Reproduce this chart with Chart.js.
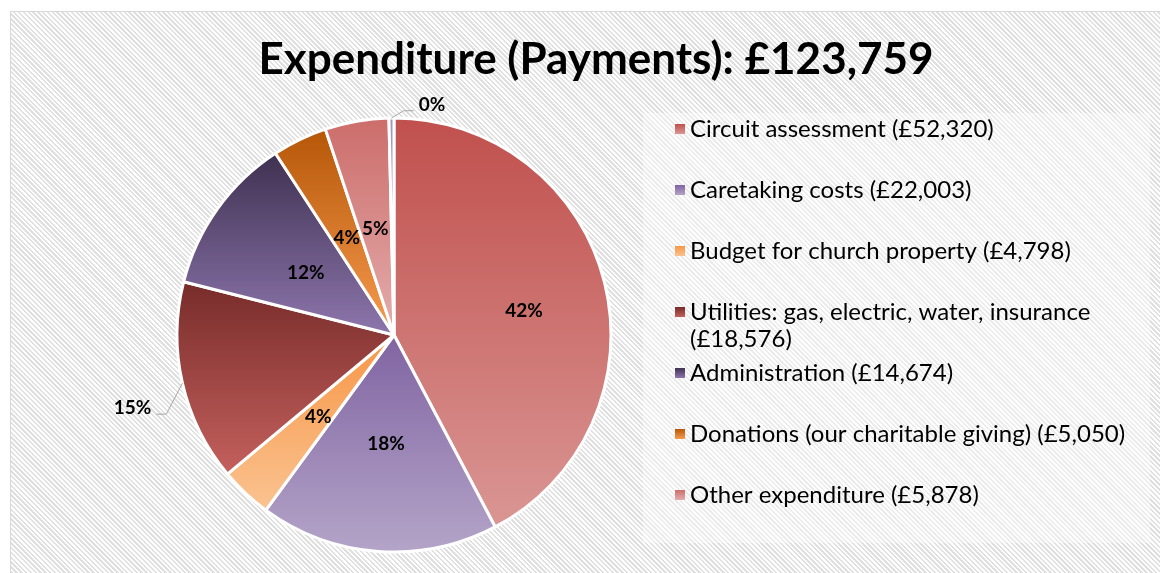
<!DOCTYPE html>
<html lang="en">

<head>
    <meta charset="UTF-8">
    <title>Expenditure (Payments)</title>
    <script src="https://cdn.jsdelivr.net/npm/chart.js"></script>
    <style>
        body { margin: 0; background: #fff; }
        .wrap { position: relative; width: 1160px; height: 573px; overflow: hidden; }
        /* Excel style hatched chart area */
        .frame {
            position: absolute; left: 10px; top: 11px; width: 1160px; height: 573px;
            border: 1px solid #d9d9d9;
            background: repeating-linear-gradient(45deg, #ffffff 0px, #ffffff 1.7px, #e0e0e0 1.7px, #e0e0e0 3.4px);
        }
        canvas { position: absolute; left: 0; top: 0; }
    </style>
</head>

<body>
    <div class="wrap">
        <div class="frame"></div>
        <canvas id="expenditureChart" width="1160" height="573"></canvas>
    </div>

    <script>
        // Payments by category (last slice is the unnamed 0% sliver)
        const categories = [
            'Circuit assessment',
            'Caretaking costs',
            'Budget for church property',
            'Utilities: gas, electric, water, insurance',
            'Administration',
            'Donations (our charitable giving)',
            'Other expenditure',
            ''
        ];
        const amounts = [52320, 22003, 4798, 18576, 14674, 5050, 5878, 460];

        // slice gradients, top colour -> bottom colour
        const topColors = ['#c0504d', '#8064a2', '#f79646', '#772c2a', '#3f3151', '#b65708', '#cc6d6b', '#a493bd'];
        const bottomColors = ['#da9694', '#b4a4c8', '#fac391', '#c4605d', '#8d76ad', '#f89b4f', '#e4adac', '#c6bad8'];

        // where each percentage sits (fraction of radius, turn in degrees). > 1 means outside with a leader line
        const labelRadius = [0.61, 0.5, 0.51, 1.25, 0.5, 0.5, 0.5, 1.08];
        const labelTurn = [3, 0, 0, -2.6, 0, 0, 0, 10];

        const FONT = 'Lato, Carlito, Calibri, sans-serif';
        const PIE_RADIUS = 217;
        const total = amounts.reduce((a, b) => a + b, 0);
        const money = v => '£' + v.toLocaleString('en-GB');

        function sliceGradient(context) {
            const chart = context.chart;
            const i = context.dataIndex;
            const area = chart.chartArea;
            if (!area || i === undefined) return topColors[i || 0];
            const cx = (area.left + area.right) / 2;
            const cy = (area.top + area.bottom) / 2;
            const before = amounts.slice(0, i).reduce((a, b) => a + b, 0);
            const start = -Math.PI / 2 + 2 * Math.PI * before / total;
            const end = start + 2 * Math.PI * amounts[i] / total;
            const ys = [cy, cy + PIE_RADIUS * Math.sin(start), cy + PIE_RADIUS * Math.sin(end)];
            [-Math.PI / 2, Math.PI / 2, 3 * Math.PI / 2].forEach(a => {
                if (a >= start && a <= end) ys.push(cy + PIE_RADIUS * Math.sin(a));
            });
            const g = chart.ctx.createLinearGradient(0, Math.min(...ys), 0, Math.max(...ys));
            g.addColorStop(0, topColors[i]);
            g.addColorStop(1, bottomColors[i]);
            return g;
        }

        function wrapText(ctx, text, maxWidth) {
            const words = text.split(' ');
            const lines = [];
            let line = '';
            words.forEach(w => {
                const test = line ? line + ' ' + w : w;
                if (ctx.measureText(test).width > maxWidth && line) {
                    lines.push(line);
                    line = w;
                } else {
                    line = test;
                }
            });
            lines.push(line);
            return lines;
        }

        // title, legend and data labels drawn the way Excel lays them out
        const excelLook = {
            id: 'excelLook',
            beforeDraw(chart) {
                const ctx = chart.ctx;
                ctx.save();
                ctx.fillStyle = 'rgba(255,255,255,0.4)';
                ctx.fillRect(643, 113, 507, 430);
                ctx.restore();
            },
            afterDatasetsDraw(chart) {
                const ctx = chart.ctx;
                const arcs = chart.getDatasetMeta(0).data;
                ctx.save();
                ctx.font = 'bold 19px ' + FONT;
                ctx.fillStyle = '#000';
                ctx.textAlign = 'center';
                ctx.textBaseline = 'middle';
                arcs.forEach((arc, i) => {
                    const text = Math.round(amounts[i] / total * 100) + '%';
                    const mid = (arc.startAngle + arc.endAngle) / 2;
                    const ang = mid + labelTurn[i] * Math.PI / 180;
                    const r = arc.outerRadius * labelRadius[i];
                    const lx = arc.x + Math.cos(ang) * r;
                    const ly = arc.y + Math.sin(ang) * r;
                    if (labelRadius[i] > 1) {
                        const w = ctx.measureText(text).width;
                        const side = Math.cos(ang) < 0 ? 1 : -1;
                        const endX = lx + side * (w / 2 + 5);
                        const elbowX = endX + side * 10;
                        const lineY = ly + 7;
                        ctx.strokeStyle = '#a6a6a6';
                        ctx.lineWidth = 1;
                        ctx.beginPath();
                        ctx.moveTo(endX, lineY);
                        ctx.lineTo(elbowX, lineY);
                        ctx.lineTo(arc.x + Math.cos(mid) * arc.outerRadius, arc.y + Math.sin(mid) * arc.outerRadius);
                        ctx.stroke();
                    }
                    ctx.fillText(text, lx, ly + 1);
                });
                ctx.restore();
            },
            afterDraw(chart) {
                const ctx = chart.ctx;
                ctx.save();
                // title
                ctx.font = 'bold 44px ' + FONT;
                ctx.fillStyle = '#000';
                ctx.textAlign = 'center';
                ctx.textBaseline = 'alphabetic';
                ctx.fillText('Expenditure (Payments): ' + money(total), 596, 74);

                // legend
                ctx.font = '24px ' + FONT;
                ctx.textAlign = 'left';
                let slot = 0;
                categories.forEach((name, i) => {
                    if (!name) return;
                    const base = 137 + slot * 61;
                    const g = ctx.createLinearGradient(0, base - 13, 0, base - 3);
                    g.addColorStop(0, topColors[i]);
                    g.addColorStop(1, bottomColors[i]);
                    ctx.fillStyle = g;
                    ctx.fillRect(675, base - 13, 10, 10);
                    ctx.fillStyle = '#000';
                    const lines = wrapText(ctx, name + ' (' + money(amounts[i]) + ')', 455);
                    lines.forEach((line, k) => ctx.fillText(line, 690, base + k * 27));
                    slot++;
                });
                ctx.restore();
            }
        };

        const ctx = document.getElementById('expenditureChart').getContext('2d');
        new Chart(ctx, {
            type: 'pie',
            data: {
                labels: categories,
                datasets: [{
                    data: amounts,
                    backgroundColor: sliceGradient,
                    borderColor: '#ffffff',
                    borderWidth: 3,
                    hoverOffset: 0,
                    radius: PIE_RADIUS
                }]
            },
            options: {
                responsive: false,
                animation: false,
                devicePixelRatio: 1,
                layout: { padding: { left: 177, right: 549, top: 118, bottom: 21 } },
                plugins: {
                    legend: { display: false },
                    title: { display: false },
                    tooltip: { enabled: false }
                }
            },
            plugins: [excelLook]
        });
    </script>
</body>

</html>
